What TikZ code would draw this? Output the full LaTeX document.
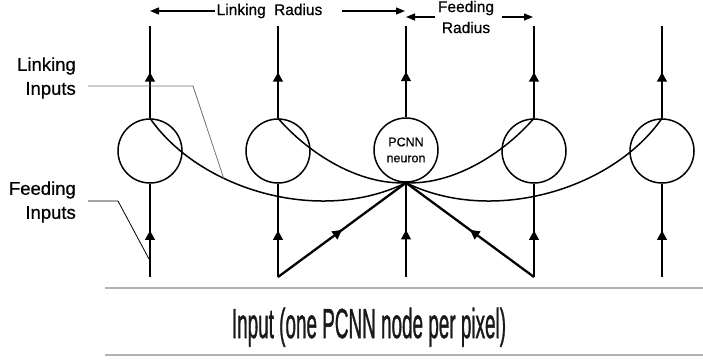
\documentclass[tikz,border=0pt]{standalone}
\usepackage{fontspec}
\setmainfont{Liberation Sans}
\newfontfamily\heavyfont[FakeBold=1.4]{Liberation Sans}
\newfontfamily\semifont[FakeBold=0.6]{Liberation Sans}
\usetikzlibrary{arrows.meta,decorations.markings}
\begin{document}
\begin{tikzpicture}[x=1pt,y=-1pt,
  neuron/.style={circle,draw,line width=1.5pt,minimum size=64pt,inner sep=0pt},
  axon/.style={line width=2.3pt},
  midarrow/.style={postaction={decorate},decoration={markings,mark=at position 0.5 with {\arrow{Triangle[width=9.5pt,length=9.5pt]}}}},
  link/.style={line width=1.5pt},
  leader/.style={line width=0.8pt},
  radius/.style={line width=1.3pt,-{Triangle[width=7pt,length=9pt]}},
  baseline/.style={line width=2.4pt,draw=black!30},
  lbl/.style={font=\semifont\fontsize{18.5}{24}\selectfont,align=right,inner sep=0pt}]
\useasboundingbox (0,0) rectangle (703,360);
% neurons
\node[neuron] (c1) at (150,151) {};
\node[neuron] (c2) at (278,151) {};
\node[neuron,font=\semifont\fontsize{12.5}{16}\selectfont,align=center] (c3) at (406,150) {PCNN\\neuron};
\node[neuron] (c4) at (534,151) {};
\node[neuron] (c5) at (662,151) {};
% top and bottom ends
\foreach \i/\x in {1/150,2/278,3/406,4/534,5/662}{
  \coordinate (t\i) at (\x,26);
  \coordinate (b\i) at (\x,277);
}
% output lines
\foreach \i in {1,...,5}{
  \draw[axon,midarrow] (c\i.north) -- (t\i);
}
% feeding inputs
\foreach \i in {1,2,4,5}{
  \draw[axon,midarrow] (b\i) -- (c\i.south);
}
\draw[axon,midarrow] (b3) -- (c3.south);
\draw[axon,midarrow] (b2) -- (c3.south);
\draw[axon,midarrow] (b4) -- (c3.south);
% linking curves
\draw[link] (c1.north) .. controls (200,190) and (320,225) .. coordinate[pos=0.35] (lk) (c3.south);
\draw[link] (c2.north) .. controls (310,155) and (360,185) .. (c3.south);
\draw[link] (c4.north) .. controls (502,155) and (452,185) .. (c3.south);
\draw[link] (c5.north) .. controls (612,190) and (492,225) .. (c3.south);
% radius labels
\node[font=\semifont\fontsize{15.5}{21}\selectfont,inner sep=0pt] (lr) at (269.5,11) {Linking\hspace{4pt} Radius};
\coordinate (lrl) at (215,11);
\coordinate (lrr) at (342,11);
\coordinate (lra) at (150,11);
\coordinate (lrb) at (405,11);
\draw[radius] (lrl) -- (lra);
\draw[radius] (lrr) -- (lrb);
\node[font=\semifont\fontsize{15.5}{21}\selectfont,align=center,inner sep=0pt] (fr) at (466,17) {Feeding\\Radius};
\coordinate (frl) at (435,17);
\coordinate (frr) at (502,17);
\coordinate (fra) at (406,17);
\coordinate (frb) at (533,17);
\draw[radius] (frl) -- (fra);
\draw[radius] (frr) -- (frb);
% side labels
\node[lbl,anchor=east] (li) at (76,78) {Linking\\Inputs};
\node[lbl,anchor=east] (fi) at (76,202) {Feeding\\Inputs};
\coordinate (li1) at (88,86);
\coordinate (li2) at (193,86);
\draw[leader,draw=black!55] (li1) -- (li2) -- (lk);
\coordinate (fi1) at (88,201);
\coordinate (fi2) at (118,201);
\coordinate (fi3) at (149,259);
\draw[leader] (fi1) -- (fi2) -- (fi3);
% input bar
\coordinate (p1) at (105,288);
\coordinate (p2) at (703,288);
\coordinate (p3) at (105,355);
\coordinate (p4) at (703,355);
\draw[baseline] (p1) -- (p2);
\draw[baseline] (p3) -- (p4);
\node[anchor=base,inner sep=0pt,text=black!90] (inp) at (369,338) {\scalebox{0.45}[1]{\heavyfont\fontsize{42}{42}\selectfont Input (one PCNN node per pixel)}};
\end{tikzpicture}
\end{document}
